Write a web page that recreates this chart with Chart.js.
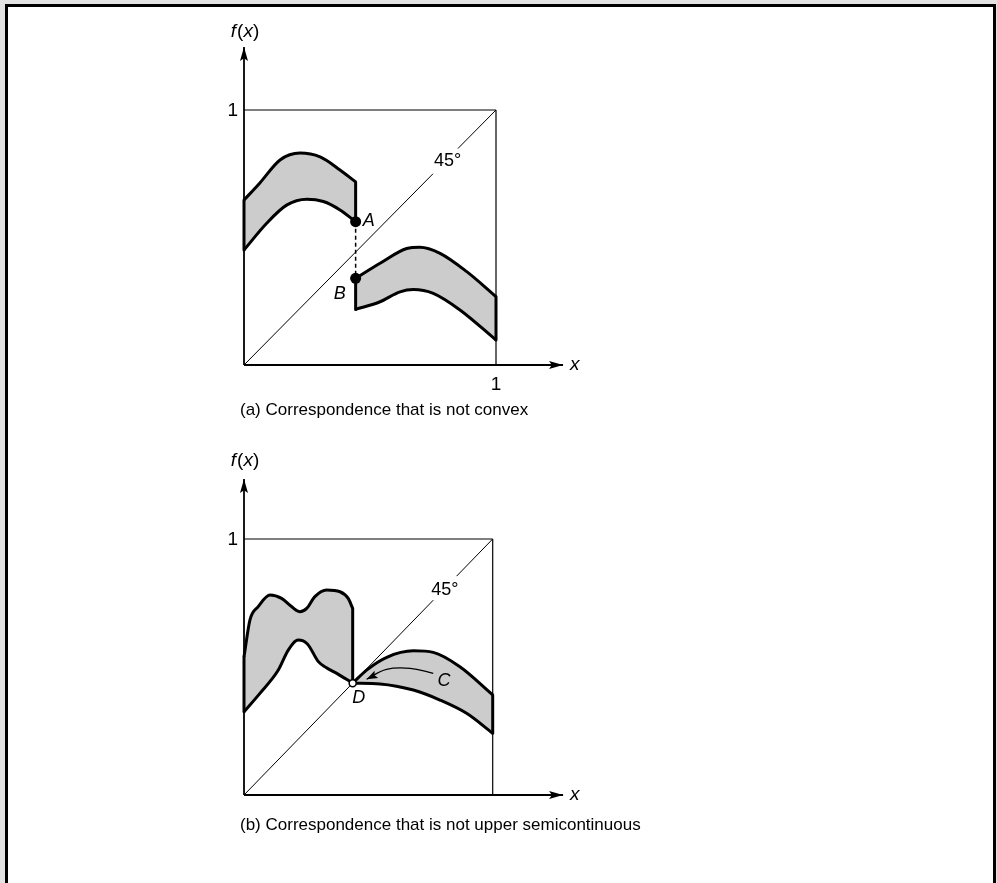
<!DOCTYPE html>
<html><head><meta charset="utf-8">
<script src="https://cdn.jsdelivr.net/npm/chart.js@4.4.0/dist/chart.umd.min.js"></script>
<style>
html,body{margin:0;padding:0;background:#e3e3e3;width:997px;height:883px;overflow:hidden;}
#frame{position:absolute;left:5px;top:4px;width:985px;height:900px;border:3px solid #000;background:#fff;}
canvas{position:absolute;left:0;display:block;}
</style></head><body>
<div id="frame"></div>
<canvas id="ca" width="997" height="430" style="top:0"></canvas>
<canvas id="cb" width="997" height="453" style="top:430px"></canvas>
<script>
// ---------------- data ----------------
// Panel (a): correspondence that is not convex
const aLeftUpper  = [[0,0.647],[0.063,0.714],[0.143,0.804],[0.222,0.831],[0.302,0.816],[0.381,0.765],[0.443,0.718]];
const aLeftLower  = [[0,0.451],[0.09,0.556],[0.169,0.627],[0.249,0.65],[0.315,0.641],[0.381,0.608],[0.443,0.562]];
const aRightUpper = [[0.443,0.34],[0.54,0.399],[0.646,0.457],[0.698,0.462],[0.778,0.438],[0.884,0.366],[1,0.268]];
const aRightLower = [[0.443,0.218],[0.54,0.248],[0.619,0.287],[0.672,0.296],[0.751,0.281],[0.857,0.216],[1,0.098]];
const aPoints     = [[0.443,0.562],[0.443,0.34]];           // A, B
const aPointNames = ['A','B'];
const aDiagGap    = [0.75,0.849];

// Panel (b): correspondence that is not upper semicontinuous
const bLeftUpper  = [[0,0.54],[0.024,0.684],[0.057,0.736],[0.105,0.781],[0.151,0.768],[0.191,0.736],[0.225,0.716],[0.252,0.729],[0.285,0.775],[0.332,0.801],[0.386,0.794],[0.419,0.768],[0.437,0.729]];
const bLeftLower  = [[0,0.325],[0.064,0.397],[0.138,0.488],[0.178,0.566],[0.218,0.605],[0.255,0.59],[0.299,0.521],[0.33,0.498],[0.373,0.475],[0.437,0.437]];
const bRightUpper = [[0.437,0.437],[0.493,0.488],[0.574,0.538],[0.681,0.563],[0.761,0.557],[0.868,0.501],[1,0.391]];
const bRightLower = [[0.437,0.437],[0.547,0.434],[0.681,0.41],[0.788,0.371],[0.895,0.319],[1,0.241]];
const bPointD     = [[0.437,0.437]];
const bArrowC     = [[0.761,0.475],[0.668,0.495],[0.573,0.491],[0.493,0.452]];
const bLabelC     = [0.804,0.447];
const bPointNames = ['C','D'];
const bDiagGap    = [0.761,0.855];

// shared text
const tickLabel   = '1';
const angleLabel  = '45°';
const captions    = ['(a) Correspondence that is not convex','(b) Correspondence that is not upper semicontinuous'];
const axisTips    = { a:[1.266,1.247], b:[1.283,1.234] };

// ---------------- helpers ----------------
const FONT = '"Liberation Sans", Arial, Helvetica, sans-serif';
const xy = arr => arr.map(([x,y]) => ({x, y}));
const BAND_W = 3;

function lineDs(data, extra) {
  return Object.assign({
    data, borderColor:'#000', borderWidth:1, pointRadius:0, fill:false,
    tension:0, clip:false, spanGaps:false
  }, extra || {});
}
function bandDs(upper, lower) {
  const ds = [
    lineDs(xy(upper), {fill:'+1', backgroundColor:'#cccccc', borderWidth:BAND_W, cubicInterpolationMode:'monotone', borderJoinStyle:'round'}),
    lineDs(xy(lower), {borderWidth:BAND_W, cubicInterpolationMode:'monotone', borderJoinStyle:'round'})
  ];
  const first = [lower[0], upper[0]], last = [lower[lower.length-1], upper[upper.length-1]];
  [first, last].forEach(e => {
    if (e[0][1] !== e[1][1]) ds.push(lineDs(xy(e), {borderWidth:BAND_W, borderCapStyle:'round'}));
  });
  return ds;
}
function diagDs(gap) {
  return lineDs([{x:0,y:0},{x:gap[0],y:gap[0]},{x:(gap[0]+gap[1])/2,y:null},{x:gap[1],y:gap[1]},{x:1,y:1}], {borderWidth:1});
}
function boxDs() {
  return [lineDs([{x:0,y:1},{x:1,y:1}], {borderWidth:1.2}), lineDs([{x:1,y:0},{x:1,y:1}], {borderWidth:1.2})];
}
function axesDs(tips) {
  return [lineDs([{x:0,y:0},{x:tips[0],y:0}], {borderWidth:1.8}), lineDs([{x:0,y:0},{x:0,y:tips[1]}], {borderWidth:1.8})];
}
function arrowHead(ctx, tx, ty, ang, len, half) {
  ctx.save();
  ctx.translate(tx, ty); ctx.rotate(ang);
  ctx.beginPath();
  ctx.moveTo(0,0); ctx.lineTo(-len, -half); ctx.lineTo(-len*0.8, 0); ctx.lineTo(-len, half); ctx.closePath();
  ctx.fillStyle = '#000'; ctx.fill();
  ctx.restore();
}
function drawFx(ctx, cx, cy) {
  const parts = [['f',true],['(',false],['x',true],[')',false]];
  const fonts = p => (p[1] ? 'italic ' : '') + '19px ' + FONT;
  let w = 0;
  parts.forEach(p => { ctx.font = fonts(p); w += ctx.measureText(p[0]).width + (p[0]==='f'?1:0); });
  let x = cx - w/2;
  ctx.textAlign = 'left'; ctx.textBaseline = 'middle';
  parts.forEach(p => { ctx.font = fonts(p); ctx.fillText(p[0], x, cy); x += ctx.measureText(p[0]).width + (p[0]==='f'?1:0); });
}

function makePanel(canvas, cfg) {
  const W = canvas.width, H = canvas.height;
  const xmax = 1.32, ymax = 1.3;
  const padding = {
    left: cfg.x0, right: W - (cfg.x0 + xmax*cfg.ux),
    top: cfg.y0 - ymax*cfg.uy, bottom: H - cfg.y0
  };
  const decor = {
    id:'decor',
    afterDatasetsDraw(chart) {
      const ctx = chart.ctx, sx = chart.scales.x, sy = chart.scales.y;
      const px = v => sx.getPixelForValue(v), py = v => sy.getPixelForValue(v);
      ctx.save();
      ctx.fillStyle = '#000';
      arrowHead(ctx, px(cfg.tips[0]), py(0), 0, 14, 4);
      arrowHead(ctx, px(0), py(cfg.tips[1]), -Math.PI/2, 14, 4);
      drawFx(ctx, px(0)+1, py(cfg.tips[1]) + cfg.fxDy);
      ctx.font = 'italic 19px ' + FONT; ctx.textAlign = 'left'; ctx.textBaseline = 'middle';
      ctx.fillText('x', px(cfg.tips[0]) + 7, py(0));
      ctx.font = '19px ' + FONT; ctx.textAlign = 'right';
      ctx.fillText(tickLabel, px(0) - 6, py(1) + 1);
      if (cfg.xTick) { ctx.textAlign = 'center'; ctx.fillText(tickLabel, px(1), py(0) + 20); }
      ctx.font = '18px ' + FONT; ctx.textAlign = 'center';
      ctx.fillText(angleLabel, px(0.8) + 2, py(0.8));
      (cfg.texts || []).forEach(t => {
        ctx.font = 'italic 18px ' + FONT; ctx.textAlign = t.align;
        ctx.fillText(t.text, px(t.x) + t.dx, py(t.y) + t.dy);
      });
      if (cfg.arrow) {
        const n = cfg.arrow.length, a = cfg.arrow[n-1], b = cfg.arrow[n-2];
        const ang = Math.atan2(py(a[1]) - py(b[1]), px(a[0]) - px(b[0]));
        arrowHead(ctx, px(a[0]), py(a[1]), ang, 11, 4);
      }
      ctx.font = '17px ' + FONT; ctx.textAlign = 'left';
      ctx.fillText(cfg.caption, px(0) - 4, py(0) + cfg.capDy);
      ctx.restore();
    }
  };
  return new Chart(canvas, {
    type:'line',
    data:{ datasets: cfg.datasets },
    options:{
      responsive:false, animation:false, events:[],
      layout:{ padding },
      scales:{
        x:{ type:'linear', min:0, max:xmax, display:false },
        y:{ type:'linear', min:0, max:ymax, display:false }
      },
      plugins:{ legend:{display:false}, tooltip:{enabled:false}, title:{display:false},
                filler:{ drawTime:'beforeDatasetsDraw' } }
    },
    plugins:[decor]
  });
}

// ---------------- panel (a) ----------------
makePanel(document.getElementById('ca'), {
  x0:244, ux:252, y0:365, uy:255, tips:axisTips.a, fxDy:-15, xTick:true,
  caption:captions[0], capDy:45,
  datasets:[
    lineDs(xy(aPoints), {showLine:false, pointRadius:5.5, pointBackgroundColor:'#000', pointBorderWidth:0}),
    ...bandDs(aLeftUpper, aLeftLower),
    ...bandDs(aRightUpper, aRightLower),
    lineDs(xy(aPoints), {borderWidth:1.5, borderDash:[4,3]}),
    diagDs(aDiagGap),
    ...boxDs(),
    ...axesDs(axisTips.a)
  ],
  texts:[
    {text:aPointNames[0], x:aPoints[0][0], y:aPoints[0][1], dx:7, dy:-1, align:'left'},
    {text:aPointNames[1], x:aPoints[1][0], y:aPoints[1][1], dx:-10, dy:16, align:'right'}
  ]
});

// ---------------- panel (b) ----------------
makePanel(document.getElementById('cb'), {
  x0:244, ux:248.7, y0:365, uy:256, tips:axisTips.b, fxDy:-18, xTick:false,
  caption:captions[1], capDy:30, arrow:bArrowC,
  datasets:[
    lineDs(xy(bPointD), {showLine:false, pointRadius:3.5, pointBackgroundColor:'#fff', pointBorderColor:'#000', pointBorderWidth:1.5}),
    lineDs(xy(bArrowC), {borderWidth:1.3, tension:0.4}),
    ...bandDs(bLeftUpper, bLeftLower),
    ...bandDs(bRightUpper, bRightLower),
    diagDs(bDiagGap),
    ...boxDs(),
    ...axesDs(axisTips.b)
  ],
  texts:[
    {text:bPointNames[0], x:bLabelC[0], y:bLabelC[1], dx:0, dy:0, align:'center'},
    {text:bPointNames[1], x:bPointD[0][0], y:bPointD[0][1], dx:6, dy:15, align:'center'}
  ]
});
</script>
</body></html>
